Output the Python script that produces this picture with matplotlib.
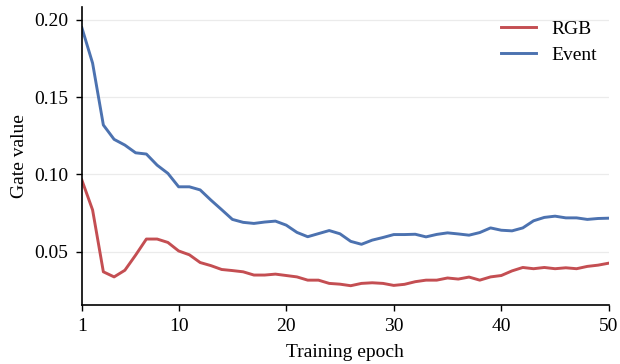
import matplotlib
matplotlib.use("Agg")
import matplotlib.pyplot as plt

# gate values per epoch
epochs = list(range(1, 51))
rgb = [0.0964, 0.077, 0.037, 0.0337, 0.038, 0.0478, 0.0582, 0.0582, 0.056, 0.0505,
       0.048, 0.043, 0.041, 0.0385, 0.0378, 0.037, 0.0349, 0.0349, 0.0355, 0.0346,
       0.0337, 0.0316, 0.0316, 0.0295, 0.029, 0.028, 0.0295, 0.0299, 0.0295, 0.0282,
       0.0289, 0.0306, 0.0316, 0.0316, 0.033, 0.0323, 0.0336, 0.0316, 0.0337, 0.0346,
       0.0376, 0.0398, 0.039, 0.0398, 0.039, 0.0396, 0.039, 0.0405, 0.0413, 0.0426]
event = [0.195, 0.172, 0.132, 0.1227, 0.119, 0.114, 0.1132, 0.106, 0.1007, 0.092,
         0.092, 0.090, 0.0834, 0.0772, 0.0709, 0.069, 0.0683, 0.0692, 0.0698, 0.0672,
         0.0625, 0.0597, 0.0617, 0.0637, 0.0616, 0.0567, 0.0548, 0.0575, 0.0592, 0.0611,
         0.0611, 0.0613, 0.0596, 0.0612, 0.0622, 0.0615, 0.0607, 0.0624, 0.0654, 0.0639,
         0.0635, 0.0654, 0.0700, 0.0722, 0.0730, 0.0719, 0.0719, 0.0709, 0.0715, 0.0717]
x_ticks = [1, 10, 20, 30, 40, 50]
y_ticks = [0.05, 0.10, 0.15, 0.20]

RED = '#c44e52'
BLUE = '#4c72b0'

plt.rcParams['font.family'] = ['Liberation Serif', 'DejaVu Serif']
plt.rcParams['font.size'] = 14

fig = plt.figure(figsize=(6.2, 3.64), dpi=100)
ax = fig.add_axes([0.132, 0.162, 0.850, 0.819])

ax.plot(epochs, rgb, color=RED, lw=2.1, label='RGB')
ax.plot(epochs, event, color=BLUE, lw=2.1, label='Event')

ax.set_xlim(1, 50)
ax.set_ylim(0.0155, 0.2084)
ax.set_xticks(x_ticks)
ax.set_yticks(y_ticks)
ax.set_yticklabels([f"{v:.2f}" for v in y_ticks])
ax.yaxis.grid(True, color='#ebebeb', lw=0.9)
ax.set_axisbelow(True)

for s in ['top', 'right']:
    ax.spines[s].set_visible(False)
for s in ['left', 'bottom']:
    ax.spines[s].set_linewidth(1.2)
ax.tick_params(direction='out', length=4, width=1.0, labelsize=14)
ax.tick_params(axis='y', pad=6)
ax.tick_params(axis='x', pad=5)

ax.set_xlabel('Training epoch', fontsize=14, labelpad=7)
ax.set_ylabel('Gate value', fontsize=14, labelpad=4)

ax.legend(loc='upper right', frameon=False, fontsize=14, handlelength=1.8,
          handletextpad=0.8, labelspacing=0.45, borderaxespad=0,
          bbox_to_anchor=(0.9926, 0.982))

fig.savefig('out.png', dpi=100)
